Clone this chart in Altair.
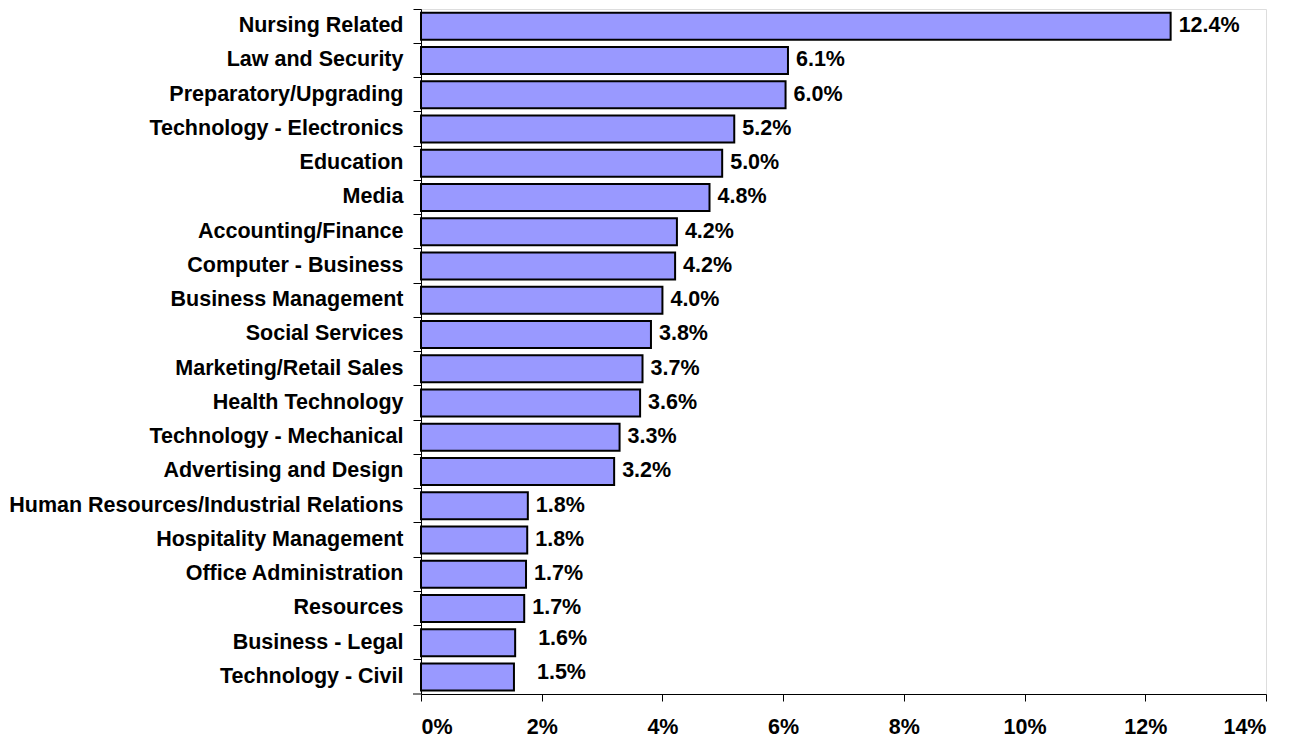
import altair as alt
import pandas as pd

categories = [
    "Nursing Related", "Law and Security", "Preparatory/Upgrading",
    "Technology - Electronics", "Education", "Media", "Accounting/Finance",
    "Computer - Business\u00a0", "Business Management", "Social Services",
    "Marketing/Retail Sales", "Health Technology", "Technology - Mechanical",
    "Advertising and Design", "Human Resources/Industrial Relations",
    "Hospitality Management", "Office Administration", "Resources",
    "Business - Legal", "Technology - Civil",
]
values = [12.42, 6.08, 6.04, 5.19, 4.99, 4.78, 4.24, 4.21, 4.00, 3.81,
          3.67, 3.63, 3.29, 3.20, 1.77, 1.76, 1.74, 1.71, 1.56, 1.54]
value_labels = ["12.4%", "6.1%", "6.0%", "5.2%", "5.0%", "4.8%", "4.2%", "4.2%",
                "4.0%", "3.8%", "3.7%", "3.6%", "3.3%", "3.2%", "1.8%", "1.8%",
                "1.7%", "1.7%", "1.6%", "1.5%"]
x_ticks = [0, 2, 4, 6, 8, 10, 12, 14]

df = pd.DataFrame({"cat": categories, "val": values, "lab": value_labels})

FONT = "Liberation Sans"
FS = 21.5

y_enc = alt.Y(
    "cat:N", sort=categories,
    scale=alt.Scale(paddingInner=0, paddingOuter=0),
    axis=alt.Axis(
        title=None, bandPosition=0, tickSize=8, tickColor="black",
        domainColor="black", labelFont=FONT, labelFontSize=FS,
        labelFontWeight="bold", labelColor="black", labelPadding=10,
        labelLimit=500, grid=False,
    ),
)
x_enc = alt.X(
    "val:Q",
    scale=alt.Scale(domain=[0, 14], nice=False),
    axis=alt.Axis(
        title=None, values=x_ticks, labelExpr="datum.value + '%'", tickSize=7,
        tickColor="black", domainColor="black", labelFont=FONT,
        labelFontSize=FS, labelFontWeight="bold", labelColor="black",
        labelPadding=15, grid=False,
    ),
)

base = alt.Chart(df)

bars = base.mark_bar(size=27, color="#9999FF", stroke="black", strokeWidth=2).encode(
    x=x_enc, y=y_enc
)

text_main = base.transform_filter("datum.val >= 1.6").mark_text(
    align="left", baseline="middle", dx=8, font=FONT, fontSize=FS,
    fontWeight="bold", color="black",
).encode(x="val:Q", y=alt.Y("cat:N", sort=categories), text="lab:N")

text_small = base.transform_filter("datum.val < 1.6").mark_text(
    align="left", baseline="middle", dx=23, dy=-4, font=FONT, fontSize=FS,
    fontWeight="bold", color="black",
).encode(x="val:Q", y=alt.Y("cat:N", sort=categories), text="lab:N")

bottom_tick = alt.Chart(pd.DataFrame({"a": [0]})).mark_rule(color="black").encode(
    x=alt.value(-8), x2=alt.value(0), y=alt.value(685)
)

chart = alt.layer(bars, text_main, text_small, bottom_tick).properties(
    width=845, height=685,
    autosize=alt.AutoSizeParams(type="none"),
    padding={"left": 413, "top": 1, "right": 20, "bottom": 45},
).configure_view(stroke=None).configure(background="white")

chart.save("out.html", embed_options={"renderer": "svg", "actions": False})
